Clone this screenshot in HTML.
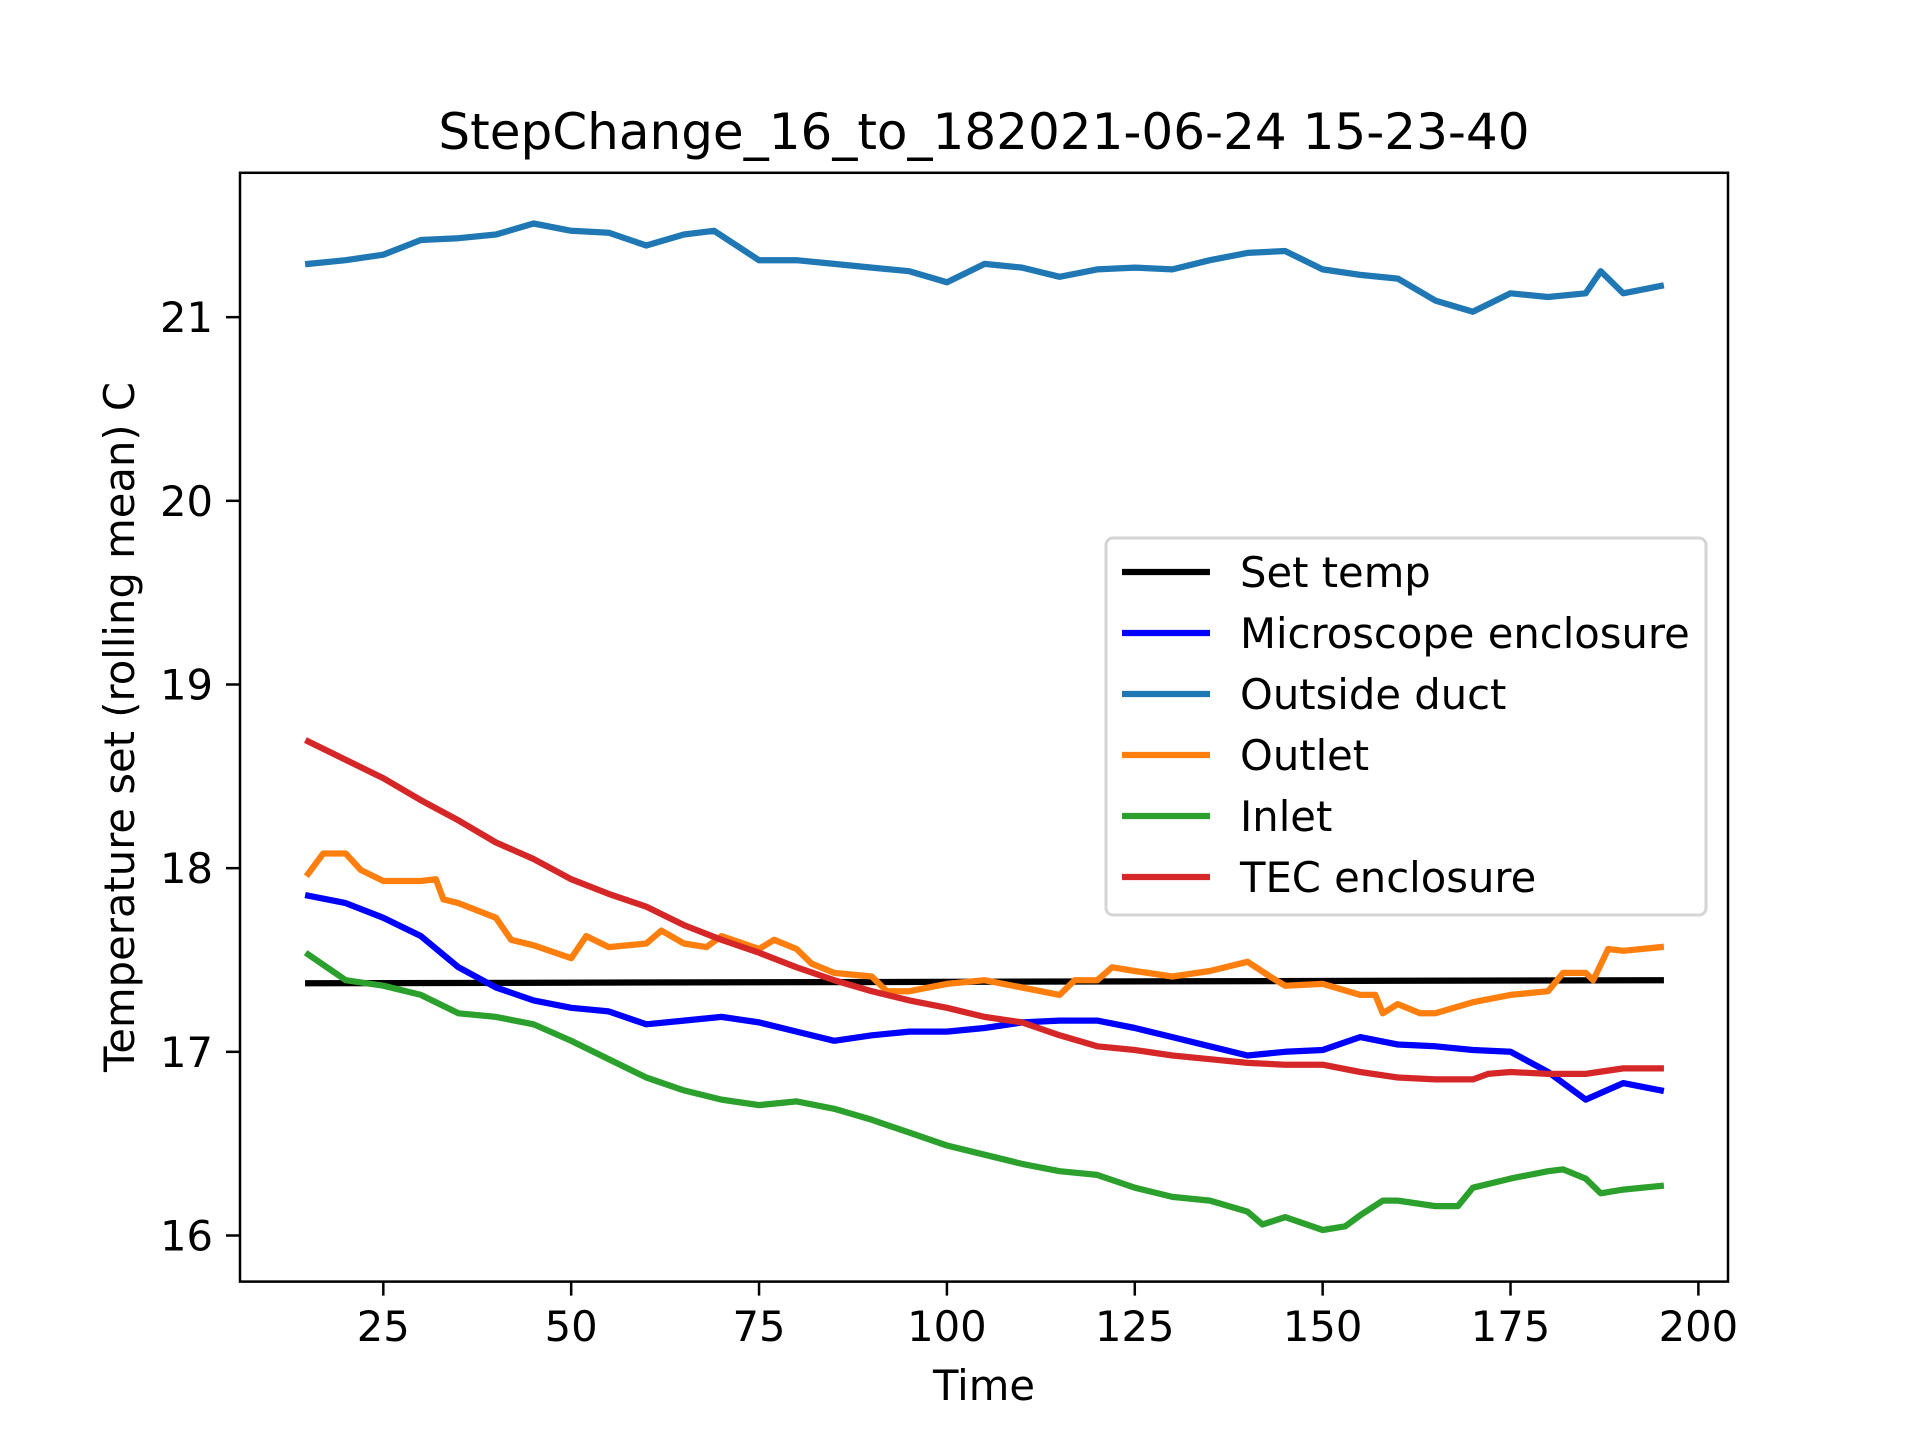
<!DOCTYPE html>
<html><head><meta charset="utf-8"><style>
html,body{margin:0;padding:0;background:#fff;}
svg{display:block;font-family:"DejaVu Sans","Liberation Sans",sans-serif;}
</style></head><body>
<svg id="chart" width="1920" height="1440" viewBox="0 0 1920 1440" xmlns="http://www.w3.org/2000/svg">
<rect width="1920" height="1440" fill="#fff"/>
<text x="984" y="149" font-size="50" text-anchor="middle">StepChange_16_to_182021-06-24 15-23-40</text>
<g id="xticks"></g>
<g id="yticks"></g>
<g id="series"></g>
<rect x="240" y="172.8" width="1488" height="1108.8" fill="none" stroke="#000" stroke-width="2.5"/>
<text x="984" y="1400" font-size="41.7" text-anchor="middle">Time</text>
<text transform="translate(134,727) rotate(-90)" font-size="41.7" text-anchor="middle">Temperature set (rolling mean) C</text>
<g id="legend"></g>
</svg>
<script>
const NS="http://www.w3.org/2000/svg";
const xTicks=[25,50,75,100,125,150,175,200];
const yTicks=[16,17,18,19,20,21];
const setT=[15,195];
const setV=[17.373,17.39];
const tA=[15,20,25,30,35,40,45,50,55,60,65,70,75,80,85,90,95,100,105,110,115,120,125,130,135,140,145,150,155,160,165,170,175,180,185,190,195];
const ductT=[15,20,25,30,35,40,45,50,55,60,65,69,75,80,85,90,95,100,105,110,115,120,125,130,135,140,145,150,155,160,165,170,175,180,185,187,190,195];
const ductV=[21.29,21.31,21.34,21.42,21.43,21.45,21.51,21.47,21.46,21.39,21.45,21.47,21.31,21.31,21.29,21.27,21.25,21.19,21.29,21.27,21.22,21.26,21.27,21.26,21.31,21.35,21.36,21.26,21.23,21.21,21.09,21.03,21.13,21.11,21.13,21.25,21.13,21.17];
const micV=[17.85,17.81,17.73,17.63,17.46,17.35,17.28,17.24,17.22,17.15,17.17,17.19,17.16,17.11,17.06,17.09,17.11,17.11,17.13,17.16,17.17,17.17,17.13,17.08,17.03,16.98,17.0,17.01,17.08,17.04,17.03,17.01,17.0,16.89,16.74,16.83,16.79];
const outT=[15,17,20,22,25,30,32,33,35,40,42,45,50,52,55,60,62,65,68,70,75,77,80,82,85,90,92,95,100,105,110,115,117,120,122,125,130,135,140,143,145,150,155,157,158,160,163,165,170,175,180,182,185,186,188,190,195];
const outV=[17.97,18.08,18.08,17.99,17.93,17.93,17.94,17.83,17.81,17.73,17.61,17.58,17.51,17.63,17.57,17.59,17.66,17.59,17.57,17.63,17.56,17.61,17.56,17.48,17.43,17.41,17.33,17.33,17.37,17.39,17.35,17.31,17.39,17.39,17.46,17.44,17.41,17.44,17.49,17.41,17.36,17.37,17.31,17.31,17.21,17.26,17.21,17.21,17.27,17.31,17.33,17.43,17.43,17.39,17.56,17.55,17.57];
const inT=[15,20,25,30,35,40,45,50,55,60,65,70,75,80,85,90,95,100,105,110,115,120,125,130,135,140,142,145,150,153,155,158,160,165,168,170,175,180,182,185,187,190,195];
const inV=[17.53,17.39,17.36,17.31,17.21,17.19,17.15,17.06,16.96,16.86,16.79,16.74,16.71,16.73,16.69,16.63,16.56,16.49,16.44,16.39,16.35,16.33,16.26,16.21,16.19,16.13,16.06,16.1,16.03,16.05,16.11,16.19,16.19,16.16,16.16,16.26,16.31,16.35,16.36,16.31,16.23,16.25,16.27];
const tecT=[15,20,25,30,35,40,45,50,55,60,65,70,75,80,85,90,95,100,105,110,115,120,125,130,135,140,145,150,155,160,165,170,172,175,180,185,190,195];
const tecV=[18.69,18.59,18.49,18.37,18.26,18.14,18.05,17.94,17.86,17.79,17.69,17.61,17.54,17.46,17.39,17.33,17.28,17.24,17.19,17.16,17.09,17.03,17.01,16.98,16.96,16.94,16.93,16.93,16.89,16.86,16.85,16.85,16.88,16.89,16.88,16.88,16.91,16.91];
const labels=["Set temp","Microscope enclosure","Outside duct","Outlet","Inlet","TEC enclosure"];

const X0=240,X1=1728,Y0=172.8,Y1=1281.6;
const xMin=5.93,xMax=203.94,yMin=15.749,yMax=21.786;
const sx=v=>X0+(v-xMin)/(xMax-xMin)*(X1-X0);
const sy=v=>Y1-(v-yMin)/(yMax-yMin)*(Y1-Y0);
function mk(tag,attrs,parent){const e=document.createElementNS(NS,tag);for(const k in attrs)e.setAttribute(k,attrs[k]);parent.appendChild(e);return e;}
const xg=document.getElementById('xticks');
xTicks.forEach(t=>{
  const l=mk('line',{x1:sx(t),x2:sx(t),y1:Y1,y2:Y1+14,stroke:'#000','stroke-width':2.5},xg);
  
  
  const tx=mk('text',{x:sx(t),y:1341,'font-size':41.7,'text-anchor':'middle'},xg);
  tx.textContent=t;
  
  
});
const yg=document.getElementById('yticks');
yTicks.forEach(t=>{
  const l=mk('line',{x1:X0-14,x2:X0,y1:sy(t),y2:sy(t),stroke:'#000','stroke-width':2.5},yg);
  
  
  const tx=mk('text',{x:X0-27,y:sy(t)+15,'font-size':41.7,'text-anchor':'end'},yg);
  tx.textContent=t;
  
  
});
const sg=document.getElementById('series');
const series=[
 ['set-temp-line',setT,setV,'#000000'],
 ['microscope-enclosure-line',tA,micV,'#0000ff'],
 ['outside-duct-line',ductT,ductV,'#1f77b4'],
 ['outlet-line',outT,outV,'#ff7f0e'],
 ['inlet-line',inT,inV,'#2ca02c'],
 ['tec-enclosure-line',tecT,tecV,'#d62728']];
series.forEach(s=>{
  const d=s[1].map((t,i)=>(i?'L':'M')+sx(t).toFixed(1)+','+sy(s[2][i]).toFixed(1)).join('');
  const p=mk('path',{d:d,fill:'none',stroke:s[3],'stroke-width':6.25,'stroke-linejoin':'round','stroke-linecap':'square'},sg);
  
  
});
const lg=document.getElementById('legend');
const box=mk('rect',{x:1106,y:538,width:600,height:377,rx:7,fill:'#fff','fill-opacity':0.8,stroke:'#d5d5d5','stroke-width':3},lg);


labels.forEach((lab,i)=>{
  const y=572+i*61;
  const l=mk('line',{x1:1122,x2:1210,y1:y,y2:y,stroke:series[i][3],'stroke-width':6.25},lg);
  
  
  const tx=mk('text',{x:1240,y:y+15,'font-size':41.7},lg);
  tx.textContent=lab;
  
  
});
</script>
</body></html>
